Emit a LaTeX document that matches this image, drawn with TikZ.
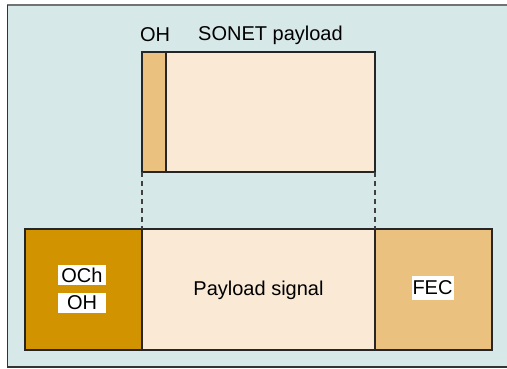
\documentclass[tikz,border=0pt]{standalone}
\usepackage{fontspec}
\setmainfont{Liberation Sans}
\usetikzlibrary{positioning}

\definecolor{panel}{HTML}{D7E8E8}
\definecolor{ochgold}{HTML}{D29300}
\definecolor{lightpay}{HTML}{F9E9D5}
\definecolor{fecgold}{HTML}{EBC17F}

\tikzset{
	box/.style={draw=black!85, line width=1.3pt, inner sep=0pt, outer sep=0pt},
	tag/.style={fill=white, inner sep=1pt, font=\fontsize{20}{20}\selectfont},
	lbl/.style={inner sep=0pt, font=\fontsize{20}{20}\selectfont}
}

\begin{document}
\begin{tikzpicture}[x=1pt, y=1pt]
	\useasboundingbox (0,0) rectangle (507,368);

	% The panel behind everything
	\fill[panel] (7,0) rectangle (507,363);
	\draw[black!55, line width=2pt] (7,363) -- (507,363);
	\draw[black!80, line width=1pt] (7,0) -- (7,363);
	\draw[black!80, line width=2pt] (7,1) -- (507,1);

	% The SONET frame on top
	\node[box, fill=lightpay, minimum width=233, minimum height=120] (sonet) at (258.5,256) {};
	\node[box, fill=fecgold, minimum width=24, minimum height=120, anchor=west] (soh) at (sonet.west) {};

	\node[lbl] (sohlbl) at (155,333) {OH};
	\node[lbl] (sonetlbl) at (270.5,333) {SONET payload};

	% The OCh frame below
	\node[box, fill=ochgold, minimum width=117, minimum height=121] (och) at (83.5,78.5) {};
	\node[box, fill=lightpay, minimum width=233, minimum height=121, right=0pt of och] (pay) {};
	\node[box, fill=fecgold, minimum width=117, minimum height=121, right=0pt of pay] (fec) {};

	% What is inside each part
	\node[tag, minimum width=48, minimum height=20] (ochlbl) at (82,93) {OCh};
	\node[tag, minimum width=48, minimum height=20] (ohlbl) at (82,65.5) {OH};
	\node[lbl] (paylbl) at (258.5,78) {Payload signal};
	\node[tag, minimum height=24] (feclbl) at (432.5,80) {FEC};

	% The payload maps onto the middle part
	\draw[dashed, black!75, line width=1.2pt, dash pattern=on 4.5pt off 4.5pt] (sonet.south west) -- (pay.north west);
	\draw[dashed, black!75, line width=1.2pt, dash pattern=on 4.5pt off 4.5pt] (sonet.south east) -- (pay.north east);
\end{tikzpicture}
\end{document}
